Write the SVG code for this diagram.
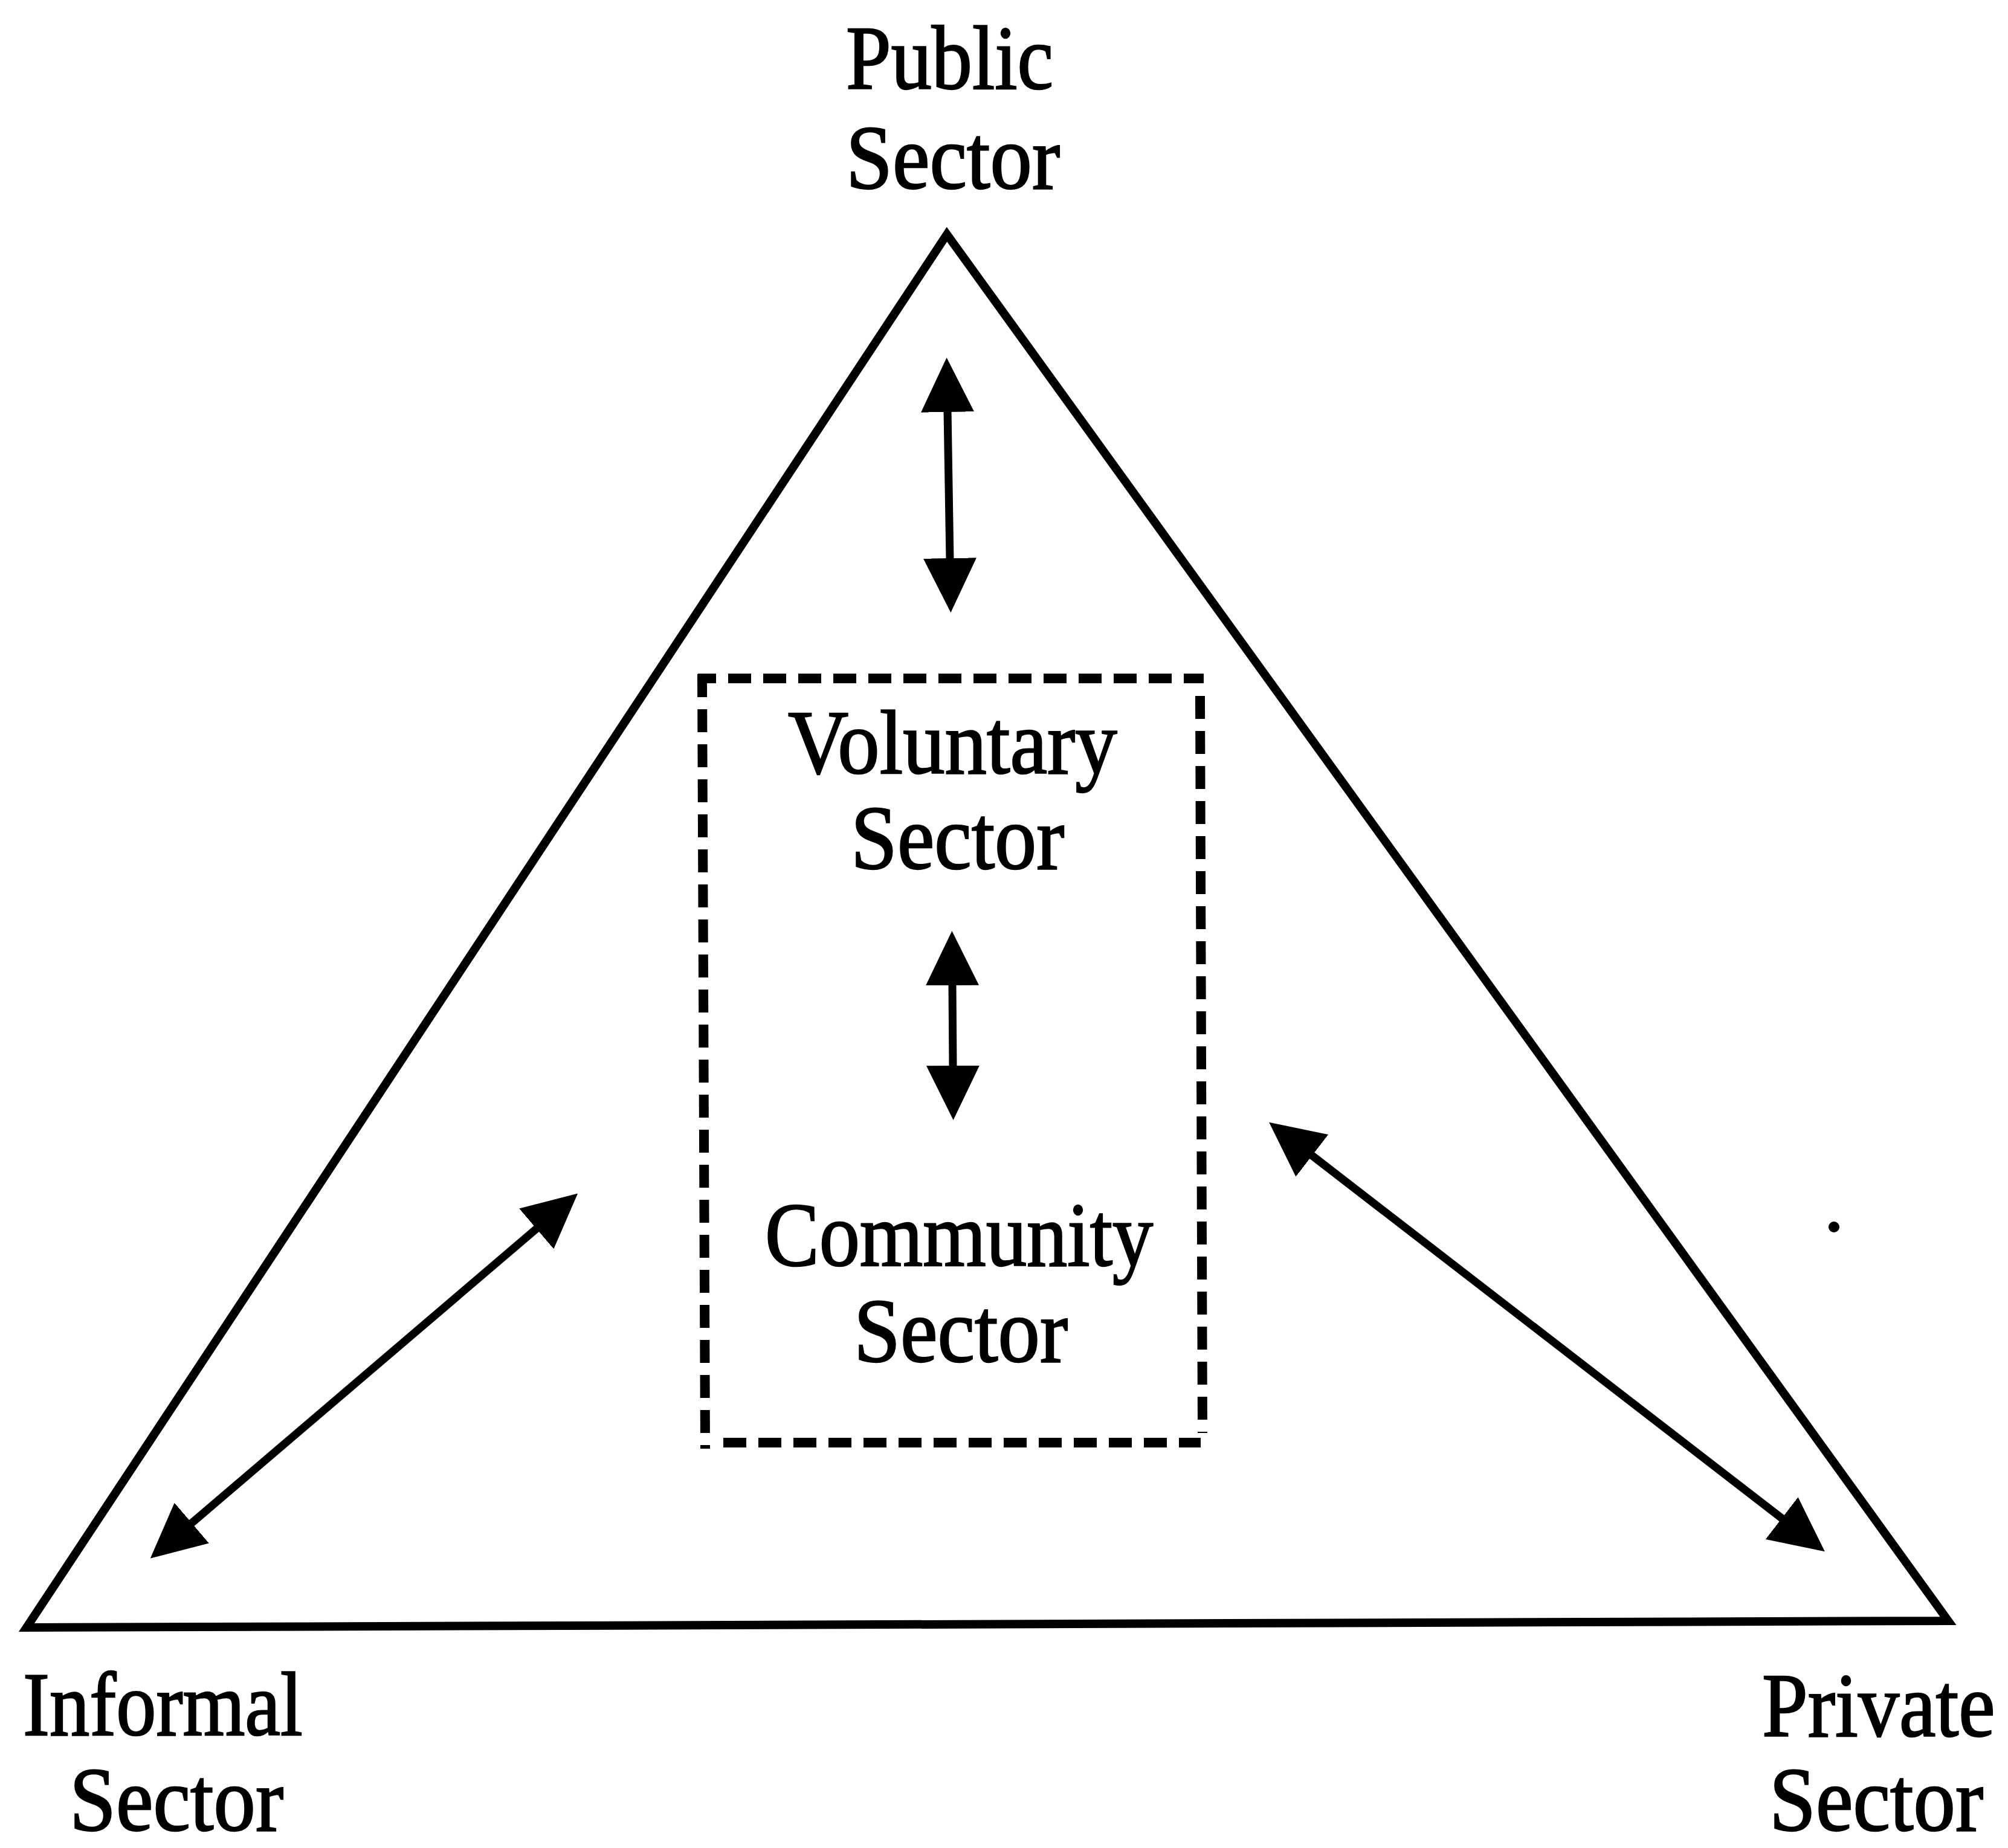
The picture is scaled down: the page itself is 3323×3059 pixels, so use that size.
<svg xmlns="http://www.w3.org/2000/svg" width="3323" height="3059" viewBox="0 0 3323 3059">
  <style>
    .label { font-family: "Liberation Serif", "Times New Roman", serif; font-size: 150px; fill: #000; stroke: #000; stroke-width: 2.5; }
    .frame { fill: none; stroke: #000; stroke-width: 14; stroke-linejoin: miter; }
    .dash { fill: none; stroke: #000; stroke-width: 16; stroke-dasharray: 38 20; }
    .link { fill: none; stroke: #000; stroke-width: 13; marker-start: url(#head); marker-end: url(#head); }
  </style>
  <defs>
    <marker id="head" viewBox="0 0 90 88" refX="3" refY="44" markerWidth="90" markerHeight="88" markerUnits="userSpaceOnUse" orient="auto-start-reverse">
      <path d="M0,0 L90,44 L0,88 z" fill="#000"/>
    </marker>
  </defs>
  <rect width="3323" height="3059" fill="#fff"/>

  <!-- outer triangle joining the three sectors -->
  <g id="frame">
    <polygon class="frame" points="1567,388 44,2694 3224,2683"/>
  </g>

  <!-- corner labels (narrowed horizontally to the printed face) -->
  <g id="node-public">
    <text class="label" transform="translate(1400,147) scale(0.895,1)">Public</text>
    <text class="label" transform="translate(1400,312) scale(0.924,1)">Sector</text>
  </g>
  <g id="node-informal">
    <text class="label" transform="translate(38,2872) scale(0.882,1)">Informal</text>
    <text class="label" transform="translate(115,3030) scale(0.924,1)">Sector</text>
  </g>
  <g id="node-private">
    <text class="label" transform="translate(2916,2874) scale(0.908,1)">Private</text>
    <text class="label" transform="translate(2928,3030) scale(0.924,1)">Sector</text>
  </g>

  <!-- dashed box holding the voluntary and community sectors -->
  <g id="node-voluntary-community">
    <line class="dash" x1="1155" y1="1123" x2="1992" y2="1123" stroke-dashoffset="8"/>
    <line class="dash" x1="1162" y1="1116" x2="1167" y2="2398" stroke-dasharray="38 21.2"/>
    <line class="dash" x1="1986" y1="1152" x2="1990" y2="2372"/>
    <line class="dash" x1="1197" y1="2388" x2="1987" y2="2388"/>
    <g id="node-voluntary">
      <text class="label" transform="translate(1304,1280) scale(0.925,1)">Voluntary</text>
      <text class="label" transform="translate(1408,1438) scale(0.922,1)">Sector</text>
    </g>
    <g id="node-community">
      <text class="label" transform="translate(1266,2095) scale(0.896,1)">Community</text>
      <text class="label" transform="translate(1413,2254) scale(0.924,1)">Sector</text>
    </g>
  </g>

  <!-- two-way links -->
  <g id="connectors">
    <line class="link" x1="1568" y1="679" x2="1572" y2="927"/>
    <line class="link" x1="1576" y1="1628" x2="1577" y2="1767"/>
    <line class="link" x1="890" y1="2032" x2="315" y2="2523"/>
    <line class="link" x1="2169" y1="1911" x2="2951" y2="2515"/>
  </g>

  <!-- small printed speck right of the triangle -->
  <circle cx="3035" cy="2031" r="9" fill="#000"/>
</svg>
